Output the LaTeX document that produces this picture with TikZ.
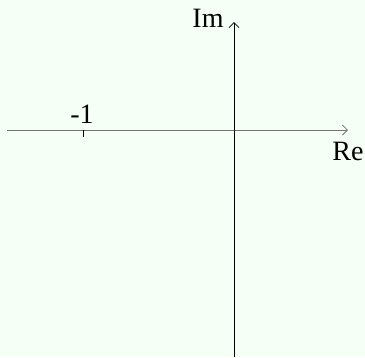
\documentclass[tikz,border=0pt]{standalone}
\usepackage{fontspec}
\setmainfont{Liberation Serif}
\usetikzlibrary{arrows.meta}
\definecolor{bgmint}{RGB}{245,255,245}
\begin{document}
\begin{tikzpicture}[
    x=1pt, y=-1pt,
    axis/.style={line width=0.9pt, -{Straight Barb[length=5pt,width=10pt,line width=0.8pt]}},
    lbl/.style={font=\fontsize{28}{32}\selectfont, inner sep=0pt}
]
\fill[bgmint] (0,0) rectangle (365,357);
\useasboundingbox (0,0) rectangle (365,357);
% axes
\coordinate (west) at (7,130);
\coordinate (east) at (348,130);
\coordinate (south) at (234,357);
\coordinate (north) at (234,22);
\draw[axis, draw=black!55] (west) -- (east);
\draw[axis] (south) -- (north);
% tick at -1
\coordinate (tick) at (83,130);
\coordinate (tickend) at (83,137);
\draw[line width=0.9pt] (tick) -- (tickend);
% labels
\node[lbl] (im) at (208,18) {Im};
\node[lbl] (mone) at (82,114) {-1};
\node[lbl] (re) at (348,151) {Re};
\end{tikzpicture}
\end{document}
